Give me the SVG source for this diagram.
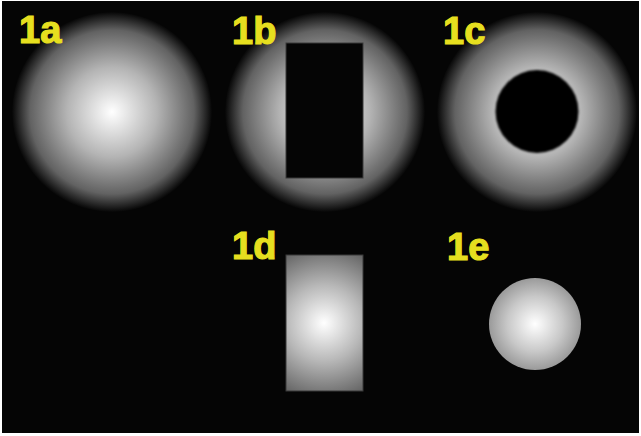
<svg xmlns="http://www.w3.org/2000/svg" width="641" height="436" viewBox="0 0 641 436">
  <defs>
    <radialGradient id="glow" cx="0.5" cy="0.5" r="0.5">
      <stop offset="0" stop-color="#ffffff"/>
      <stop offset="0.45" stop-color="#b4b4b4"/>
      <stop offset="0.82" stop-color="#626262"/>
      <stop offset="1" stop-color="#060606"/>
    </radialGradient>
    <radialGradient id="rectGlow" gradientUnits="userSpaceOnUse" cx="324" cy="323" r="95">
      <stop offset="0" stop-color="#ffffff"/>
      <stop offset="0.4" stop-color="#b8b8b8"/>
      <stop offset="1" stop-color="#404040"/>
    </radialGradient>
    <radialGradient id="ballGlow" cx="0.5" cy="0.5" r="0.5">
      <stop offset="0" stop-color="#ffffff"/>
      <stop offset="0.6" stop-color="#c8c8c8"/>
      <stop offset="1" stop-color="#9a9a9a"/>
    </radialGradient>
    <filter id="soft" x="-10%" y="-10%" width="120%" height="120%">
      <feGaussianBlur stdDeviation="0.8"/>
    </filter>
    <style>
      .label { font-family: "Liberation Sans", Arial, sans-serif; font-weight: bold; font-size: 38px; fill: #e6df1f; stroke: #e6df1f; stroke-width: 1.2px; }
      .hole { fill: #050505; }
    </style>
  </defs>
  <rect x="0" y="0" width="641" height="436" fill="#ffffff"/>
  <rect x="2" y="1" width="637" height="432" fill="#050505"/>

  <g id="node-1a">
    <circle cx="112" cy="112" r="100" fill="url(#glow)"/>
    <text class="label" x="19" y="43">1a</text>
  </g>

  <g id="node-1b">
    <circle cx="325" cy="112" r="100" fill="url(#glow)"/>
    <rect class="hole" x="286" y="43" width="77" height="135" stroke="#3a3a3a" stroke-width="1"/>
    <text class="label" x="232" y="44">1b</text>
  </g>

  <g id="node-1c">
    <circle cx="537" cy="112" r="100" fill="url(#glow)"/>
    <circle class="hole" cx="537" cy="111.5" r="41.5" filter="url(#soft)"/>
    <text class="label" x="443" y="44">1c</text>
  </g>

  <g id="node-1d">
    <rect x="286" y="255" width="77" height="136" fill="url(#rectGlow)" stroke="#3a3a3a" stroke-width="1"/>
    <text class="label" x="232" y="259">1d</text>
  </g>

  <g id="node-1e">
    <circle cx="535" cy="324" r="46" fill="url(#ballGlow)"/>
    <text class="label" x="447" y="260">1e</text>
  </g>
</svg>
